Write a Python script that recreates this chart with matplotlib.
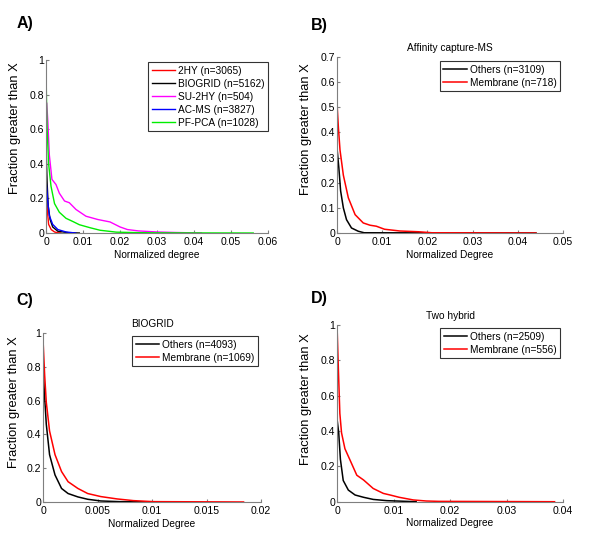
import matplotlib

matplotlib.use("Agg")
import matplotlib.pyplot as plt
from matplotlib.ticker import FuncFormatter

plt.rcParams["font.family"] = ["Liberation Sans", "DejaVu Sans"]
plt.rcParams["font.size"] = 7

# Panel A: all datasets
a_2hy_x = [0, 0.0002, 0.0004, 0.0007, 0.0014, 0.0023, 0.003, 0.004]
a_2hy_y = [0.25, 0.17, 0.12, 0.05, 0.02, 0.006, 0.002, 0]
a_bio_x = [0, 0.00005, 0.0003, 0.0006, 0.0011, 0.0018, 0.0032, 0.006, 0.009]
a_bio_y = [0.93, 0.46, 0.29, 0.155, 0.078, 0.035, 0.01, 0.002, 0]
a_su_x = [0.0002, 0.0005, 0.0009, 0.0016, 0.0027, 0.0036, 0.005, 0.0063, 0.0081,
          0.0108, 0.014, 0.0173, 0.02, 0.022, 0.025, 0.03, 0.035, 0.042]
a_su_y = [0.75, 0.64, 0.45, 0.31, 0.28, 0.23, 0.185, 0.175, 0.136,
          0.097, 0.078, 0.064, 0.035, 0.02, 0.012, 0.006, 0.003, 0]
a_ac_x = [0, 0.0005, 0.0009, 0.0018, 0.0032, 0.0054, 0.008]
a_ac_y = [0.31, 0.175, 0.1, 0.05, 0.02, 0.006, 0]
a_pf_x = [0, 0.0001, 0.0003, 0.0007, 0.00135, 0.0023, 0.0036, 0.0054, 0.0074,
          0.009, 0.012, 0.0146, 0.019, 0.025, 0.03, 0.04, 0.056]
a_pf_y = [1.0, 0.8, 0.6, 0.4, 0.27, 0.17, 0.12, 0.085, 0.065,
          0.048, 0.03, 0.016, 0.005, 0.002, 0.001, 0.0005, 0]
a_labels = ["2HY (n=3065)", "BIOGRID (n=5162)", "SU-2HY (n=504)",
            "AC-MS (n=3827)", "PF-PCA (n=1028)"]

# Panel B: Affinity capture-MS
b_oth_x = [0, 0.0004, 0.0008, 0.0014, 0.0021, 0.0032, 0.0047, 0.006, 0.044]
b_oth_y = [0.337, 0.26, 0.167, 0.1, 0.053, 0.02, 0.007, 0.001, 0]
b_mem_x = [0, 0.0003, 0.00066, 0.0014, 0.0025, 0.004, 0.0058, 0.0073, 0.0087,
           0.0105, 0.0139, 0.018, 0.021, 0.044]
b_mem_y = [0.515, 0.42, 0.33, 0.23, 0.14, 0.073, 0.04, 0.031, 0.027,
           0.015, 0.008, 0.005, 0.001, 0]

# Panel C: BIOGRID
c_oth_x = [0, 0.00015, 0.0003, 0.0006, 0.0011, 0.0017, 0.0023, 0.0032, 0.0041,
           0.0053, 0.007, 0.0115]
c_oth_y = [0.8, 0.62, 0.46, 0.28, 0.16, 0.08, 0.05, 0.03, 0.016,
           0.006, 0.002, 0]
c_mem_x = [0, 0.00015, 0.0003, 0.0006, 0.0011, 0.0017, 0.0023, 0.0032, 0.0041,
           0.0053, 0.0068, 0.0083, 0.0101, 0.0184]
c_mem_y = [0.96, 0.75, 0.59, 0.42, 0.28, 0.18, 0.12, 0.08, 0.05,
           0.032, 0.018, 0.008, 0.002, 0]

# Panel D: Two hybrid
d_oth_x = [0, 0.0003, 0.0006, 0.0011, 0.002, 0.0032, 0.0047, 0.0064, 0.0088, 0.014]
d_oth_y = [0.47, 0.39, 0.24, 0.12, 0.066, 0.038, 0.025, 0.013, 0.006, 0]
d_mem_x = [0, 0.00024, 0.0005, 0.0008, 0.0014, 0.0023, 0.0035, 0.0047, 0.0064,
           0.0082, 0.0094, 0.011, 0.0135, 0.0158, 0.018, 0.0385]
d_mem_y = [1.0, 0.75, 0.5, 0.39, 0.3, 0.236, 0.15, 0.123, 0.075,
           0.047, 0.038, 0.025, 0.01, 0.004, 0.002, 0]

GRAY = "#7f7f7f"


def fmt(value, _pos):
    return f"{value:g}"


def style_axis(axis, xlim, ylim, xticks, yticks, xlabel, ylabel_pos):
    axis.set_xlim(*xlim)
    axis.set_ylim(*ylim)
    axis.set_xticks(xticks)
    axis.set_yticks(yticks)
    axis.xaxis.set_major_formatter(FuncFormatter(fmt))
    axis.yaxis.set_major_formatter(FuncFormatter(fmt))
    for side in ("top", "right"):
        axis.spines[side].set_visible(False)
    for side in ("left", "bottom"):
        axis.spines[side].set_color(GRAY)
        axis.spines[side].set_linewidth(0.8)
    axis.tick_params(direction="in", length=2, color=GRAY, labelsize=7.6)
    axis.tick_params(axis="x", pad=3.2)
    axis.tick_params(axis="y", pad=1.5)
    axis.set_xlabel(xlabel, fontsize=7.3, labelpad=1.5)
    axis.set_ylabel("Fraction greater than X", fontsize=9.3)
    axis.yaxis.set_label_coords(*ylabel_pos)


def add_legend(axis, anchor):
    leg = axis.legend(loc="upper right", bbox_to_anchor=anchor, fontsize=7.3,
                      frameon=True, fancybox=False, edgecolor="black",
                      handlelength=2.3, handletextpad=0.3, labelspacing=0.3,
                      borderpad=0.35, borderaxespad=0)
    leg.get_frame().set_linewidth(0.8)
    return leg


fig = plt.figure(figsize=(6.0, 5.4), dpi=100)

# A
ax_a = fig.add_axes([0.0767, 0.5685, 0.37, 0.3204])
series_a = [(a_2hy_x, a_2hy_y, "#ff0000"), (a_bio_x, a_bio_y, "#000000"),
            (a_su_x, a_su_y, "#ff00ff"), (a_ac_x, a_ac_y, "#0000ff"),
            (a_pf_x, a_pf_y, "#00ee00")]
for (xs, ys, color), label in zip(series_a, a_labels):
    ax_a.plot(xs, ys, color=color, linewidth=1.0, label=label)
style_axis(ax_a, (0, 0.06), (0, 1), [0, 0.01, 0.02, 0.03, 0.04, 0.05, 0.06],
           [0, 0.2, 0.4, 0.6, 0.8, 1], "Normalized degree", (-0.113, 0.604))
add_legend(ax_a, (1.0, 0.988))

# B
ax_b = fig.add_axes([0.5617, 0.5685, 0.3767, 0.326])
ax_b.plot(b_oth_x, b_oth_y, color="black", linewidth=1.1, label="Others (n=3109)")
ax_b.plot(b_mem_x, b_mem_y, color="red", linewidth=1.1, label="Membrane (n=718)")
style_axis(ax_b, (0, 0.05), (0, 0.7), [0, 0.01, 0.02, 0.03, 0.04, 0.05],
           [0, 0.1, 0.2, 0.3, 0.4, 0.5, 0.6, 0.7], "Normalized Degree",
           (-0.11, 0.59))
ax_b.set_title("Affinity capture-MS", fontsize=7.3, pad=4.5)
add_legend(ax_b, (0.987, 0.977))

# C
ax_c = fig.add_axes([0.0717, 0.0704, 0.3633, 0.313])
ax_c.plot(c_oth_x, c_oth_y, color="black", linewidth=1.1, label="Others (n=4093)")
ax_c.plot(c_mem_x, c_mem_y, color="red", linewidth=1.1, label="Membrane (n=1069)")
style_axis(ax_c, (0, 0.02), (0, 1), [0, 0.005, 0.01, 0.015, 0.02],
           [0, 0.2, 0.4, 0.6, 0.8, 1], "Normalized Degree", (-0.105, 0.593))
ax_c.set_title("BIOGRID", fontsize=7.3, pad=4.5)
add_legend(ax_c, (0.986, 0.982))

# D
ax_d = fig.add_axes([0.5617, 0.0709, 0.3767, 0.327])
ax_d.plot(d_oth_x, d_oth_y, color="black", linewidth=1.1, label="Others (n=2509)")
ax_d.plot(d_mem_x, d_mem_y, color="red", linewidth=1.1, label="Membrane (n=556)")
style_axis(ax_d, (0, 0.04), (0, 1), [0, 0.01, 0.02, 0.03, 0.04],
           [0, 0.2, 0.4, 0.6, 0.8, 1], "Normalized Degree", (-0.11, 0.581))
ax_d.set_title("Two hybrid", fontsize=7.3, pad=4.5)
add_legend(ax_d, (0.987, 0.983))

for text, x, y in [("A)", 0.042, 0.957), ("B)", 0.533, 0.953),
                   ("C)", 0.042, 0.444), ("D)", 0.533, 0.448)]:
    fig.text(x, y, text, fontsize=11.5, fontweight="bold", ha="center", va="center")

fig.savefig("out.png", dpi=100, facecolor="white")
